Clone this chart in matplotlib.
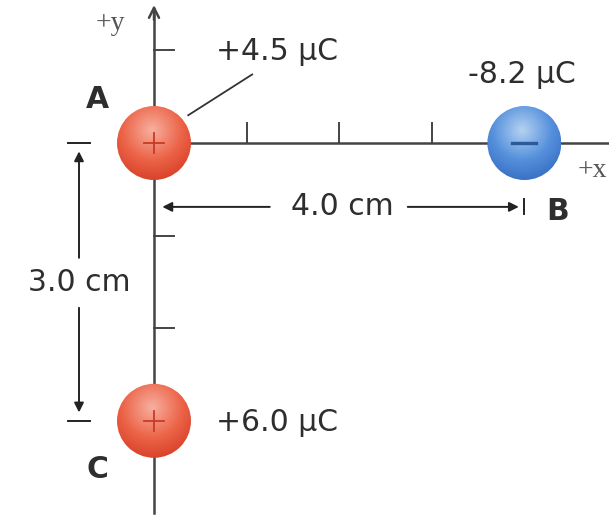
import matplotlib.pyplot as plt
import numpy as np
from matplotlib.patches import Circle
from matplotlib.colors import to_rgb

# charges: name, x (cm), y (cm), charge label, sign
names = ["A", "B", "C"]
xs = [0.0, 4.0, 0.0]
ys = [0.0, 0.0, -3.0]
charges = ["+4.5 μC", "-8.2 μC", "+6.0 μC"]
signs = ["+", "-", "+"]

x_ticks = [1, 2, 3]
y_ticks = [1, -1, -2]

PX = 92.6  # pixels per cm
R = 37 / PX

fig = plt.figure(figsize=(6.09, 5.21), dpi=100)
ax = fig.add_axes([0, 0, 1, 1])
ax.set_xlim(-154 / PX, (609 - 154) / PX)
ax.set_ylim(-(521 - 143) / PX, 143 / PX)
ax.set_aspect("equal")
ax.axis("off")

axis_col = "#444444"
txt_col = "#2e2e2e"
dim_col = "#222222"
FONT = "DejaVu Sans"
fs = 21.5

# axes
ax.plot([0, 0], [-4.0, 1.45], color=axis_col, lw=1.8, zorder=1)
ax.annotate("", xy=(0, 1.52), xytext=(0, 1.3),
            arrowprops=dict(arrowstyle="->", color=axis_col, lw=1.8,
                            mutation_scale=18))
ax.plot([0, 5.0], [0, 0], color=axis_col, lw=1.8, zorder=1)
ax.annotate("", xy=(4.97, 0), xytext=(4.7, 0),
            arrowprops=dict(arrowstyle="->", color=axis_col, lw=1.8,
                            mutation_scale=18))
for t in x_ticks:
    ax.plot([t, t], [0, 0.22], color=axis_col, lw=1.4, zorder=1)
for t in y_ticks:
    ax.plot([0, 0.22], [t, t], color=axis_col, lw=1.4, zorder=1)

ax.text(-0.47, 1.29, "+y", family="Liberation Serif", fontsize=20,
        color="#555555", ha="center", va="center")
ax.text(4.895, -0.3, "+x", family="Liberation Serif", fontsize=20,
        color="#555555", ha="right", va="center")


def sphere(x, y, base, light, dark, sign):
    n = 200
    g = np.linspace(-1, 1, n)
    gx, gy = np.meshgrid(g, g)
    d = np.hypot(gx + 0.05, gy - 0.35) / 1.35
    d = np.clip(d, 0, 1)
    light, base, dark = np.array(to_rgb(light)), np.array(to_rgb(base)), np.array(to_rgb(dark))
    t1 = np.clip(d / 0.6, 0, 1)[..., None]
    t2 = np.clip((d - 0.6) / 0.4, 0, 1)[..., None]
    img = light * (1 - t1) + base * t1
    img = img * (1 - t2) + dark * t2
    im = ax.imshow(img, extent=[x - R, x + R, y - R, y + R], origin="lower",
                   zorder=3, interpolation="bilinear")
    c = Circle((x, y), R, transform=ax.transData)
    im.set_clip_path(c)
    s = 0.11
    if sign == "+":
        ax.plot([x - s, x + s], [y, y], color="#c83a25", lw=1.3, zorder=4)
        ax.plot([x, x], [y - s, y + s], color="#c83a25", lw=1.3, zorder=4)
    else:
        ax.plot([x - 0.13, x + 0.13], [y, y], color="#2a5a9a", lw=2.4, zorder=4)


for name, x, y, sg in zip(names, xs, ys, signs):
    if sg == "+":
        sphere(x, y, "#ec6448", "#f7b0a0", "#d9432b", sg)
    else:
        sphere(x, y, "#5590dc", "#b5d2f2", "#3a72c4", sg)

# charge labels
ax.plot([0.37, 1.06], [0.30, 0.74], color="#333333", lw=1.3, zorder=2)
ax.text(xs[0] + 1.33, ys[0] + 0.99, charges[0], fontsize=fs, color=txt_col,
        family=FONT, ha="center", va="center")
ax.text(xs[1] - 0.03, ys[1] + 0.74, charges[1], fontsize=fs, color=txt_col,
        family=FONT, ha="center", va="center")
ax.text(xs[2] + 1.33, ys[2] - 0.02, charges[2], fontsize=fs, color=txt_col,
        family=FONT, ha="center", va="center")

# point names
ax.text(xs[0] - 0.61, ys[0] + 0.47, names[0], fontsize=fs, weight="bold",
        color=txt_col, family=FONT, ha="center", va="center")
ax.text(xs[1] + 0.36, ys[1] - 0.74, names[1], fontsize=fs, weight="bold",
        color=txt_col, family=FONT, ha="center", va="center")
ax.text(xs[2] - 0.61, ys[2] - 0.53, names[2], fontsize=fs, weight="bold",
        color=txt_col, family=FONT, ha="center", va="center")

# 4.0 cm dimension
dy = -0.69
dist_x = xs[1] - xs[0]
ax.annotate("", xy=(xs[0] + 0.06, dy), xytext=(1.28, dy),
            arrowprops=dict(arrowstyle="-|>", color=dim_col, lw=1.4,
                            mutation_scale=14))
ax.annotate("", xy=(dist_x - 0.03, dy), xytext=(2.71, dy),
            arrowprops=dict(arrowstyle="-|>", color=dim_col, lw=1.4,
                            mutation_scale=14))
ax.plot([dist_x, dist_x], [dy - 0.08, dy + 0.08], color=dim_col, lw=1.4)
ax.text(dist_x / 2 + 0.03, dy, f"{dist_x:.1f} cm", fontsize=fs, color=txt_col,
        family=FONT, ha="center", va="center")

# 3.0 cm dimension
dx = -0.81
dist_y = ys[0] - ys[2]
ax.plot([dx - 0.12, dx + 0.12], [ys[0], ys[0]], color=dim_col, lw=1.4)
ax.plot([dx - 0.12, dx + 0.12], [ys[2], ys[2]], color=dim_col, lw=1.4)
ax.annotate("", xy=(dx, ys[0] - 0.06), xytext=(dx, -1.27),
            arrowprops=dict(arrowstyle="-|>", color=dim_col, lw=1.4,
                            mutation_scale=14))
ax.annotate("", xy=(dx, ys[2] + 0.06), xytext=(dx, -1.75),
            arrowprops=dict(arrowstyle="-|>", color=dim_col, lw=1.4,
                            mutation_scale=14))
ax.text(dx, -1.51, f"{dist_y:.1f} cm", fontsize=fs, color=txt_col,
        family=FONT, ha="center", va="center")

fig.savefig("out.png", dpi=100)
